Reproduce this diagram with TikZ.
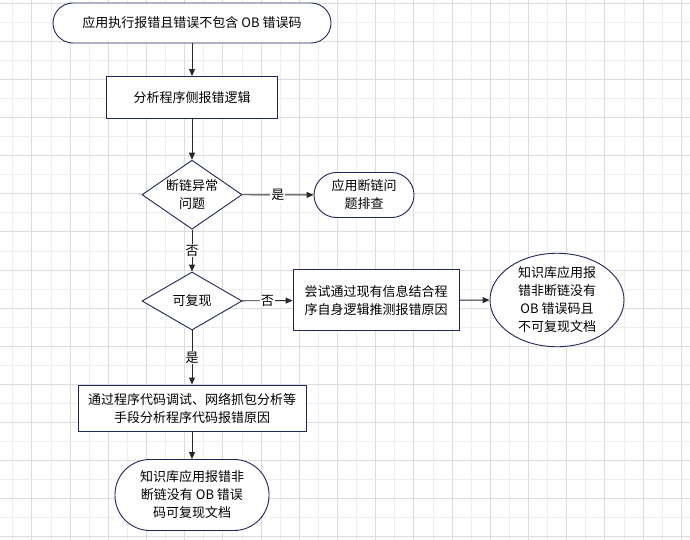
\documentclass[tikz,border=0pt]{standalone}
\usepackage{fontspec}
\setmainfont{Noto Sans CJK SC}
\usetikzlibrary{arrows.meta,shapes.geometric}
\definecolor{edgeblue}{RGB}{30,38,86}
\definecolor{gridmajor}{RGB}{220,220,222}
\definecolor{gridminor}{RGB}{238,238,240}
\definecolor{linegray}{RGB}{40,40,40}
\begin{document}
\begin{tikzpicture}[x=1pt,y=-1pt,inner sep=0pt,
	every node/.style={font=\fontsize{13pt}{18pt}\selectfont,align=center},
	box/.style={draw=edgeblue,line width=0.9pt,fill=white},
	terminal/.style={box,rounded corners=#1},
	decision/.style={box,diamond,aspect=1.5},
	arr/.style={draw=linegray,line width=0.9pt,-{Triangle[length=7pt,width=6pt]}},
	lbl/.style={fill=white,inner sep=1pt}]
		\useasboundingbox (0,0) rectangle (690,540);
		\fill[white] (0,0) rectangle (690,540);
		%background grid of the drawing canvas
		\foreach \i in {0,...,17} {
			\draw[gridminor,line width=0.8pt] (12.8+38.2*\i,0)--(12.8+38.2*\i,540);
			\draw[gridmajor,line width=0.9pt] (31.9+38.2*\i,0)--(31.9+38.2*\i,540);
		}
		\foreach \j in {0,...,14} {
			\draw[gridmajor,line width=0.9pt] (0,3.3+38.1*\j)--(690,3.3+38.1*\j);
			\draw[gridminor,line width=0.8pt] (0,22.3+38.1*\j)--(690,22.3+38.1*\j);
		}
		\node[terminal=20pt,minimum width=278pt,minimum height=40pt] (start) at (192,23){应用执行报错且错误不包含 OB 错误码};
		\node[box,minimum width=171pt,minimum height=42pt] (analyse) at (192,97.5){分析程序侧报错逻辑};
		\node[decision,minimum width=100pt,minimum height=69pt] (broken) at (192,194.7){断链异常\\问题};
		\node[terminal=22.5pt,minimum width=100pt,minimum height=45pt] (checkchain) at (364,195){应用断链问\\题排查};
		\node[decision,minimum width=100pt,minimum height=58pt] (repro) at (192,301){可复现};
		\node[box,minimum width=166pt,minimum height=61pt] (guess) at (376,300.3){尝试通过现有信息结合程\\序自身逻辑推测报错原因};
		\node[box,ellipse,minimum width=134pt,minimum height=90pt] (docnorepro) at (557,300){知识库应用报\\错非断链没有\\OB 错误码且\\不可复现文档};
		\node[box,minimum width=228pt,minimum height=46pt] (debug) at (192,408){通过程序代码调试、网络抓包分析等\\手段分析程序代码报错原因};
		\node[terminal=35pt,minimum width=154pt,minimum height=71pt] (docrepro) at (192,495){知识库应用报错非\\断链没有 OB 错误\\码可复现文档};
		\draw[arr] (start)--(analyse);
		\draw[arr] (analyse)--(broken);
		\draw[arr] (broken)--node[lbl]{是}(checkchain);
		\draw[arr] (broken)--node[lbl]{否}(repro);
		\draw[arr] (repro)--node[lbl]{否}(guess);
		\draw[arr] (guess)--(docnorepro);
		\draw[arr] (repro)--node[lbl]{是}(debug);
		\draw[arr] (debug)--(docrepro);
	\end{tikzpicture}
\end{document}
